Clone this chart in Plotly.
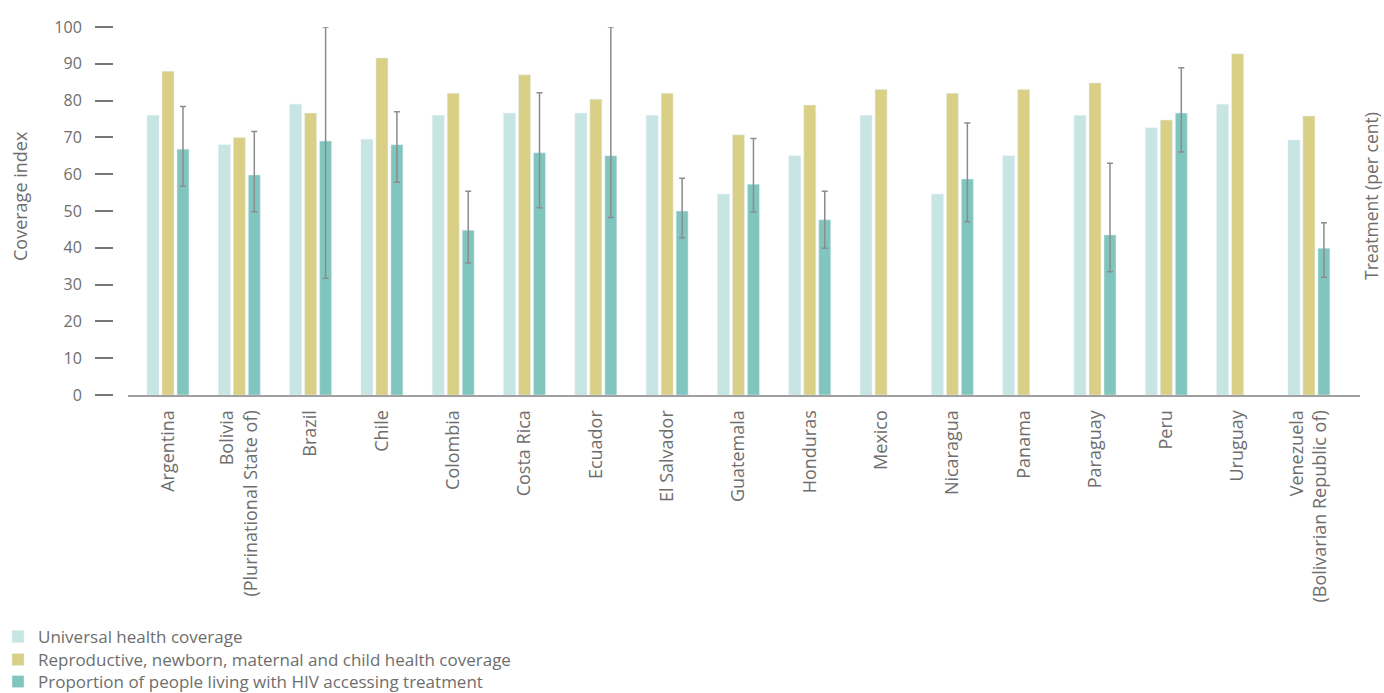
import plotly.graph_objects as go

countries = ["Argentina", "Bolivia<br>(Plurinational State of)", "Brazil", "Chile", "Colombia",
             "Costa Rica", "Ecuador", "El Salvador", "Guatemala", "Honduras", "Mexico",
             "Nicaragua", "Panama", "Paraguay", "Peru", "Uruguay",
             "Venezuela<br>(Bolivarian Republic of)"]
uhc = [76, 68, 79, 69.5, 76, 76.6, 76.6, 76, 54.6, 65, 76, 54.6, 65, 76, 72.6, 79, 69.3]
rmnch = [88, 70, 76.6, 91.6, 82, 87, 80.4, 82, 70.7, 78.8, 83, 82, 83, 84.8, 74.7, 92.7, 75.8]
hiv = [66.8, 59.8, 69, 68, 44.8, 65.8, 65, 50, 57.3, 47.6, None, 58.7, None, 43.5, 76.6, None, 39.9]
hiv_low = [56.7, 49.8, 31.7, 57.8, 35.9, 50.9, 48.2, 42.7, 49.7, 39.9, None, 47.1, None, 33.5, 66, None, 32]
hiv_high = [78.4, 71.6, 100, 77, 55.4, 82.1, 100, 58.9, 69.7, 55.4, None, 73.9, None, 63, 88.9, None, 46.8]
series_names = ["Universal health coverage",
                "Reproductive, newborn, maternal and child health coverage",
                "Proportion of people living with HIV accessing treatment"]
colors = ["#c6e5e3", "#d9d086", "#80c6bf"]

err_plus = [None if v is None else h - v for v, h in zip(hiv, hiv_high)]
err_minus = [None if v is None else v - l for v, l in zip(hiv, hiv_low)]

FONT = "Open Sans"
GREY = "#6e6e6e"

fig = go.Figure()
fig.add_trace(go.Bar(x=countries, y=uhc, name=series_names[0], marker_color=colors[0],
                     legend="legend"))
fig.add_trace(go.Bar(x=countries, y=rmnch, name=series_names[1], marker_color=colors[1],
                     legend="legend2"))
fig.add_trace(go.Bar(x=countries, y=hiv, name=series_names[2], marker_color=colors[2],
                     legend="legend3", cliponaxis=False,
                     error_y=dict(type="data", symmetric=False, array=err_plus,
                                  arrayminus=err_minus, color="#8c8c8c",
                                  thickness=1.5, width=3)))

W, H = 1384, 693
top, bottom = 27, 395
ph = bottom - top


def leg(ypx):
    return dict(x=-2 / W, y=(bottom - ypx) / ph, xanchor="left", yanchor="middle",
                orientation="v", font=dict(size=17, color=GREY),
                bgcolor="rgba(0,0,0,0)")


fig.update_layout(
    width=W, height=H,
    barmode="group", bargap=0.37, bargroupgap=0.2,
    paper_bgcolor="white", plot_bgcolor="white",
    margin=dict(l=0, r=0, t=top, b=H - bottom, autoexpand=False),
    font=dict(family=FONT, color=GREY, size=16),
    showlegend=True,
    legend=leg(637), legend2=leg(660), legend3=leg(682),
    xaxis=dict(type="category", domain=[128 / W, 1360 / W], range=[-0.561, 16.716],
               showline=True, linecolor="#a0a0a0", linewidth=2, ticks="",
               tickangle=-90, tickfont=dict(size=18, color=GREY), showgrid=False,
               ticklabelstandoff=6, automargin=False),
    yaxis=dict(anchor="free", position=113 / W, range=[0, 100], dtick=10,
               ticks="outside", ticklen=18, tickcolor="#777777", tickwidth=1.5,
               showline=False, showgrid=False, zeroline=False,
               tickfont=dict(size=16, color=GREY), ticklabelstandoff=10,
               automargin=False),
    annotations=[
        dict(text="Coverage index", x=20 / W, y=(bottom - 196) / ph, xref="paper", yref="paper",
             textangle=-90, showarrow=False, xanchor="center", yanchor="middle",
             font=dict(size=18, color=GREY)),
        dict(text="Treatment (per cent)", x=1371 / W, y=(bottom - 196) / ph, xref="paper",
             yref="paper", textangle=-90, showarrow=False, xanchor="center", yanchor="middle",
             font=dict(size=17.5, color=GREY)),
    ],
)

fig.write_html("out.html", config={"displayModeBar": False},
               post_script="document.body.style.margin='0';document.body.style.overflow='hidden';")
